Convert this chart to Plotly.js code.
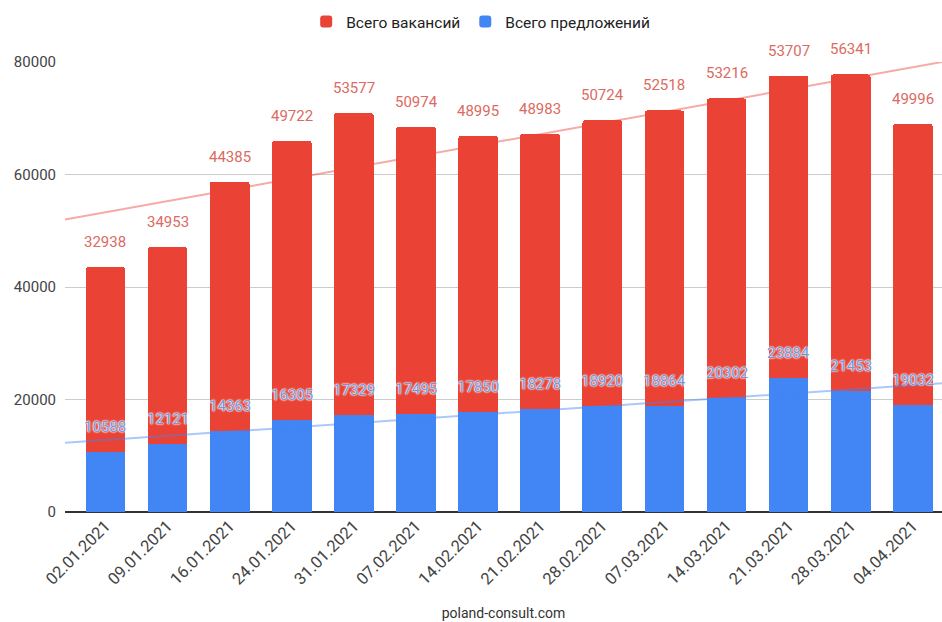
<!DOCTYPE html>
<html>
<head>
<meta charset="utf-8">
<script src="https://cdn.plot.ly/plotly-3.0.1.min.js"></script>
<style>
html,body{margin:0;padding:0;background:#fff;}
#chart{width:942px;height:622px;}
</style>
</head>
<body>
<div id="chart"></div>
<script>
// ---- data ----
const dates = ["02.01.2021","09.01.2021","16.01.2021","24.01.2021","31.01.2021","07.02.2021","14.02.2021","21.02.2021","28.02.2021","07.03.2021","14.03.2021","21.03.2021","28.03.2021","04.04.2021"];
const vacancies = [32938,34953,44385,49722,53577,50974,48995,48983,50724,52518,53216,53707,56341,49996];
const offers = [10588,12121,14363,16305,17329,17495,17850,18278,18920,18864,20302,23884,21453,19032];
// trendlines (value at left and right edge of plot)
const trendEdges = [-0.652, 13.47];
const vacTrend = [52000, 80000];
const offTrend = [12300, 22900];
const seriesNames = ["Всего вакансий", "Всего предложений"];
const yTicks = [0, 20000, 40000, 60000, 80000];

const idx = dates.map((d,i)=>i);
const totals = offers.map((v,i)=>v + vacancies[i]);

const RED = "#ea4335", BLUE = "#4285f4";
const FONT = "Roboto, 'Noto Sans', Arial, sans-serif";

const traces = [
  {type:"bar", name:seriesNames[1], x:idx, y:offers, marker:{color:BLUE}, width:0.64, hoverinfo:"skip"},
  {type:"bar", name:seriesNames[0], x:idx, y:vacancies, marker:{color:RED}, width:0.64, hoverinfo:"skip"},
  {type:"scatter", mode:"lines", x:trendEdges, y:vacTrend, line:{color:"rgba(234,67,53,0.45)", width:2}, showlegend:false, hoverinfo:"skip"},
  {type:"scatter", mode:"lines", x:trendEdges, y:offTrend, line:{color:"rgba(66,133,244,0.45)", width:2}, showlegend:false, hoverinfo:"skip"}
];

const halo = "0 0 2px #fff, 0 0 2px #fff, 0 0 1px #fff";
const annotations = [];
idx.forEach(i=>{
  annotations.push({x:i, y:totals[i], xref:"x", yref:"y", text:String(vacancies[i]), showarrow:false, yshift:25,
    font:{family:FONT, size:15, color:"#dc6a5f"}});
  annotations.push({x:i, y:offers[i], xref:"x", yref:"y", text:String(offers[i]), showarrow:false, yshift:25,
    font:{family:FONT, size:15, color:"#6f98dc", shadow:halo}});
});

const layout = {
  width:942, height:622,
  margin:{l:65, r:0, t:62, b:110},
  paper_bgcolor:"#fff", plot_bgcolor:"#fff",
  barmode:"stack",
  barcornerradius:3,
  font:{family:FONT, size:15, color:"#444"},
  showlegend:true,
  legend:{orientation:"h", x:0.474, xanchor:"center", y:1.089, yanchor:"middle", traceorder:"reversed",
    font:{family:FONT, size:15.5, color:"#222"}, itemwidth:30},
  xaxis:{type:"linear", range:trendEdges, tickvals:idx, ticktext:dates, tickangle:-45,
    showgrid:false, zeroline:false, showline:false, ticks:"",
    tickfont:{family:FONT, size:16.5, color:"#444"},
    title:{text:"poland-consult.com", font:{family:FONT, size:14, color:"#333"}, standoff:20}},
  yaxis:{range:[0,80000], tickvals:yTicks, ticktext:yTicks.map(String), showgrid:true, gridcolor:"#cccccc", gridwidth:1,
    zeroline:true, zerolinecolor:"#333", zerolinewidth:1.5, ticks:"", ticklabelstandoff:8,
    tickfont:{family:FONT, size:15, color:"#444"}},
  annotations:annotations
};

Plotly.newPlot("chart", traces, layout, {staticPlot:true, displayModeBar:false});
</script>
</body>
</html>
